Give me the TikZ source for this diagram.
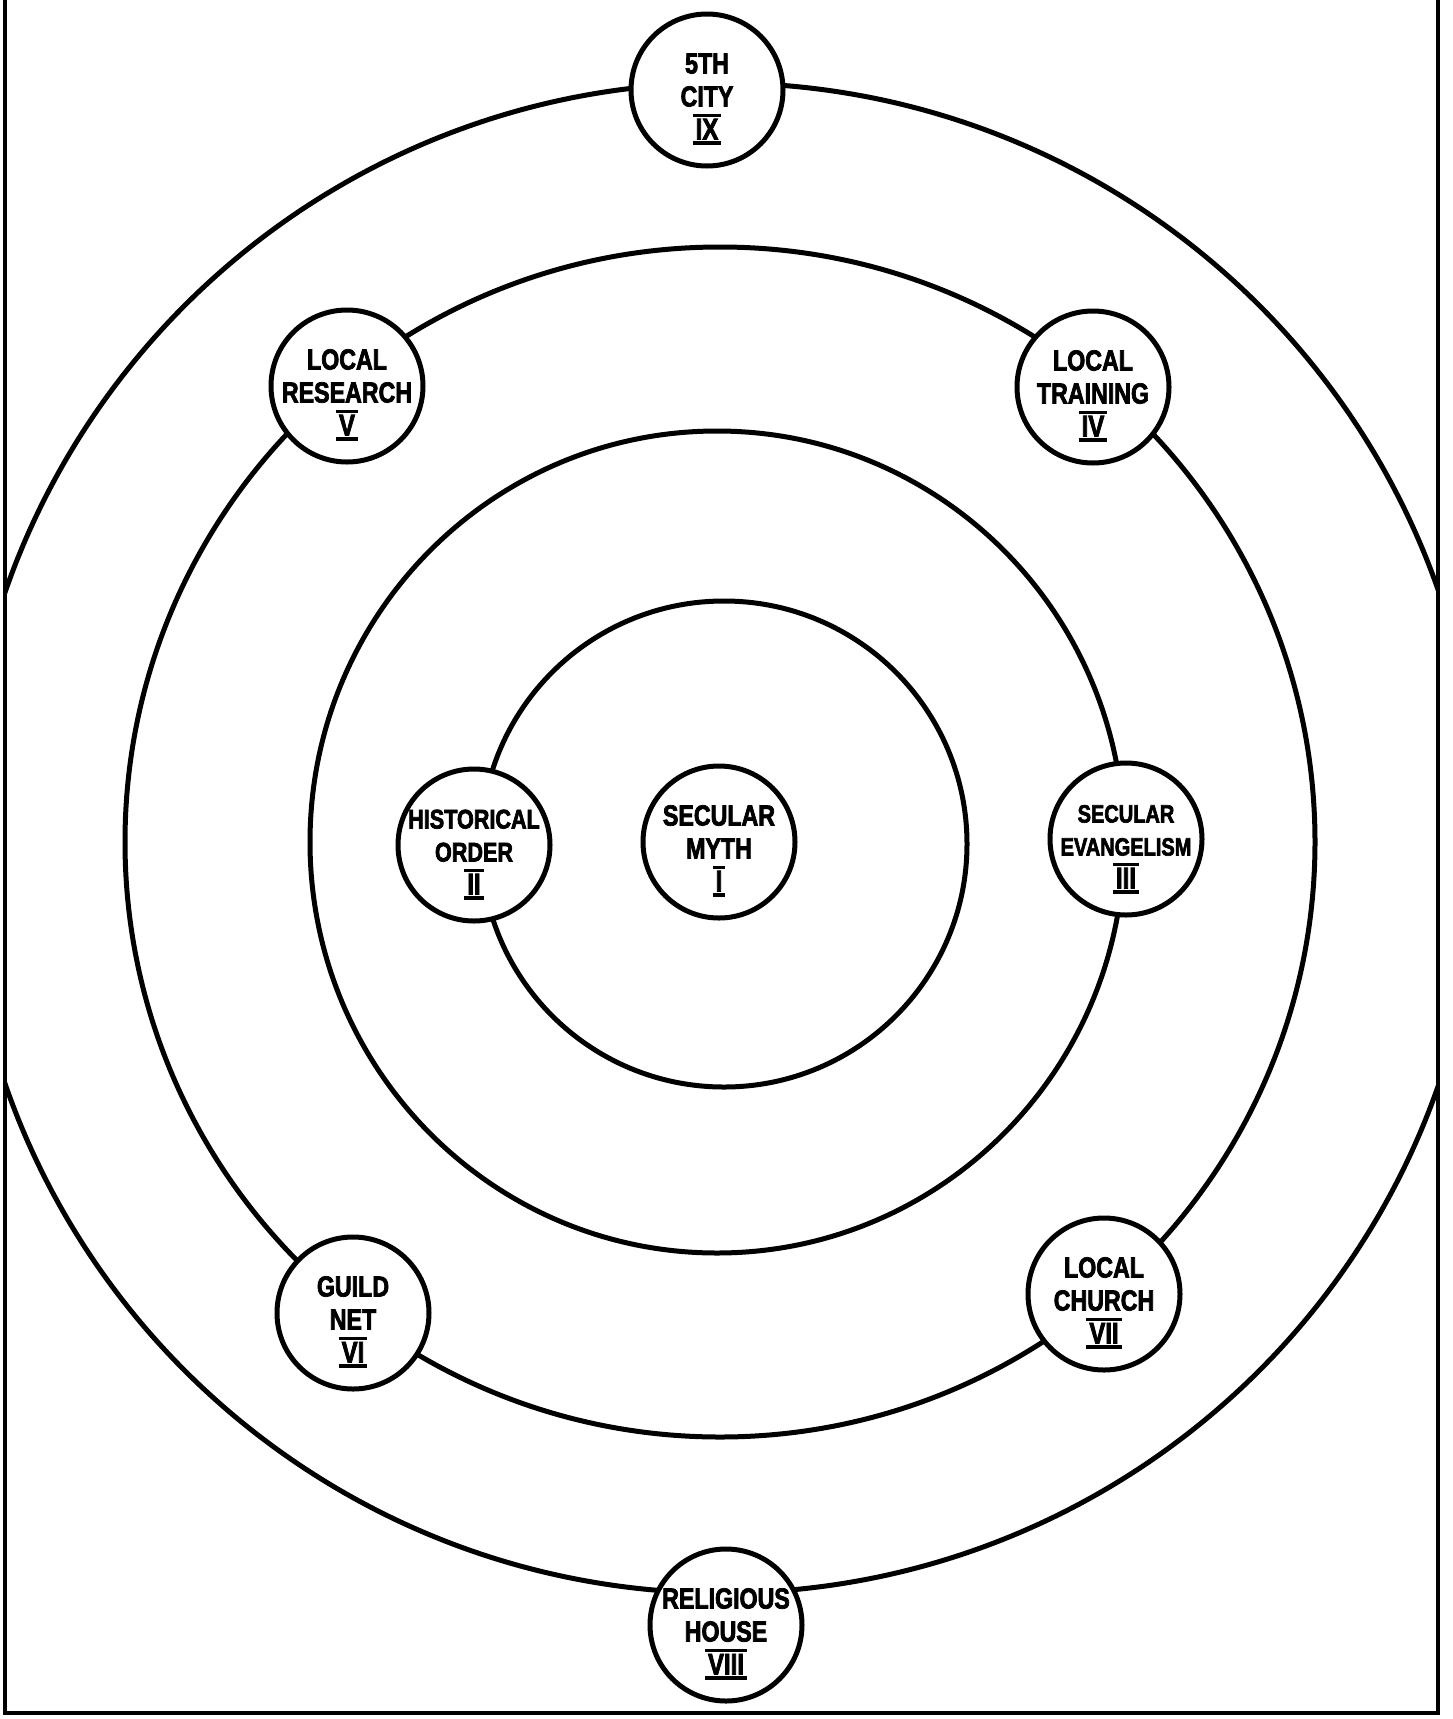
\documentclass[tikz,border=0pt]{standalone}
\usepackage{fontspec}
\newfontfamily\hand[FakeStretch=0.8,FakeBold=2.5]{Liberation Sans}
\newcommand\rnum[1]{\leavevmode\setbox0\hbox{\fontsize{30}{32}\selectfont #1}\hbox{\kern3pt\rlap{\kern-3pt\rule[\dimexpr\ht0+1.5pt\relax]{\dimexpr\wd0+6pt\relax}{3.5pt}}\rlap{\kern-3pt\rule[-5pt]{\dimexpr\wd0+6pt\relax}{3.5pt}}\box0\kern3pt}}
\newcommand\tp{\rule{0pt}{38pt}}
\tikzset{
  ring/.style={line width=5pt},
  frameline/.style={line width=4pt},
  smallcirc/.style={circle, draw, line width=5pt, fill=white, minimum size=152pt,
    inner sep=-30pt, align=center, font=\hand\bfseries\fontsize{29}{33}\selectfont}
}
\begin{document}
\begin{tikzpicture}[x=1pt,y=-1pt]
\useasboundingbox (0,0) rectangle (1452,1719);
\begin{scope}
  \clip (5,0) rectangle (1438,1713);
  \draw[ring] (722,838) ellipse [x radius=758, y radius=755];
  \draw[ring] (720,842) circle [radius=595];
  \draw[ring] (717,842) ellipse [x radius=407, y radius=411];
  \draw[ring] (724,844) circle [radius=243];
\end{scope}
\draw[frameline] (5,0) -- (5,1713) -- (1438,1713) -- (1438,0);
\node[smallcirc] (fifth) at (707,90) {\tp 5TH\\CITY\\\rnum{IX}};
\node[smallcirc] (research) at (347,386) {\tp LOCAL\\RESEARCH\\\rnum{V}};
\node[smallcirc] (training) at (1093,387) {\tp LOCAL\\TRAINING\\\rnum{IV}};
\node[smallcirc, font=\hand\bfseries\fontsize{27}{33}\selectfont] (historical) at (474,845) {\tp HISTORICAL\\ORDER\\\rnum{II}};
\node[smallcirc] (myth) at (719,842) {\tp SECULAR\\MYTH\\\rnum{I}};
\node[smallcirc, font=\hand\bfseries\fontsize{25}{33}\selectfont] (evangelism) at (1126,839) {\tp SECULAR\\EVANGELISM\\\rnum{III}};
\node[smallcirc] (guild) at (353,1313) {\tp GUILD\\NET\\\rnum{VI}};
\node[smallcirc] (church) at (1104,1294) {\tp LOCAL\\CHURCH\\\rnum{VII}};
\node[smallcirc] (house) at (726,1625) {\tp RELIGIOUS\\HOUSE\\\rnum{VIII}};
\end{tikzpicture}
\end{document}
